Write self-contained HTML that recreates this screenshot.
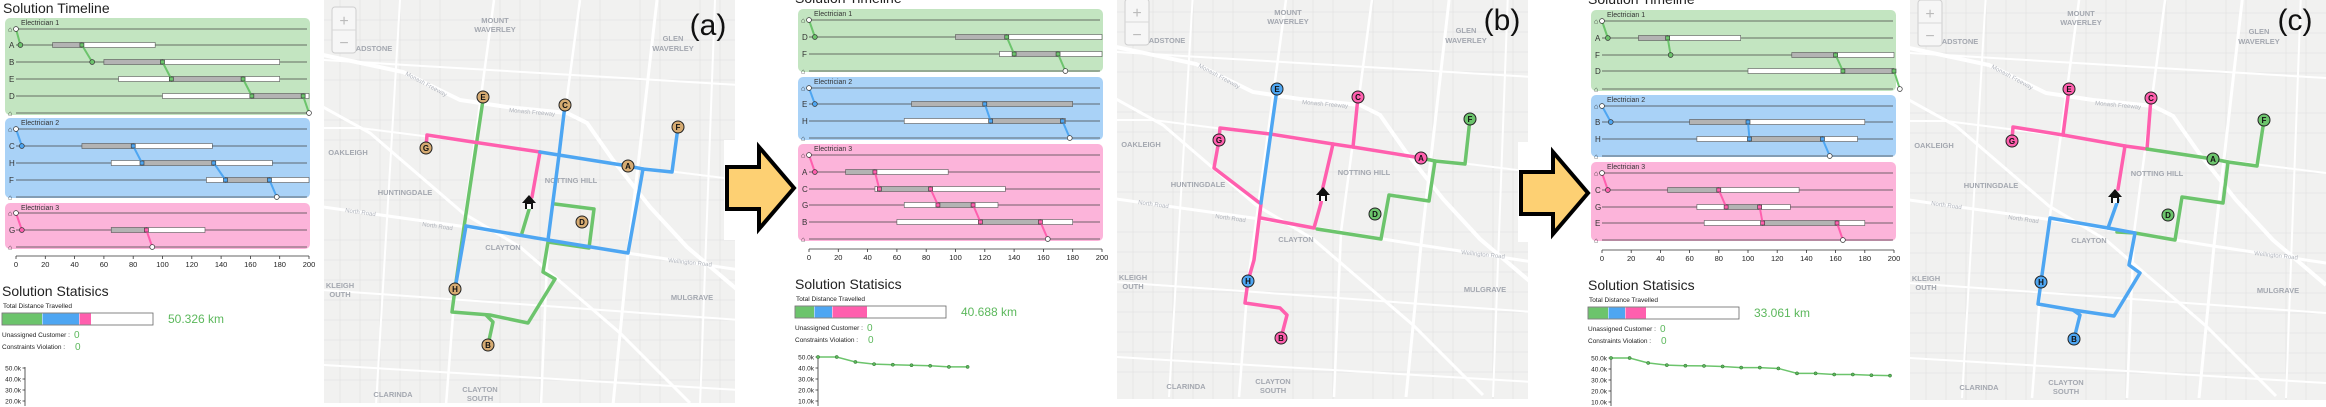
<!DOCTYPE html>
<html><head><meta charset="utf-8">
<style>
html,body{margin:0;padding:0;background:#fff;width:2326px;height:407px;overflow:hidden;}
svg{display:block;font-family:"Liberation Sans",sans-serif;}
</style></head>
<body>
<svg id="s" width="2326" height="407" viewBox="0 0 2326 407" xmlns="http://www.w3.org/2000/svg" overflow="hidden">
<defs>
<clipPath id="ca"><rect x="324" y="0" width="411" height="403"/></clipPath>
<clipPath id="cb"><rect x="1117" y="0" width="411" height="400"/></clipPath>
<clipPath id="cc"><rect x="1910" y="0" width="416" height="401"/></clipPath>
<g id="mapbg">
<rect x="300" y="0" width="460" height="407" fill="#f1f1f0"/>
<g stroke="#e4e4e4" stroke-width="0.8" fill="none">
<path d="M300 20H760M300 40H760M300 60H760M300 80H760M300 120H760M300 140H760M300 180H760M300 200H760M300 240H760M300 260H760M300 280H760M300 300H760M300 320H760M300 340H760M300 360H760M300 380H760"/>
<path d="M340 0V407M360 0V407M380 0V407M400 0V407M420 0V407M440 0V407M500 0V407M520 0V407M540 0V407M580 0V407M600 0V407M640 0V407M660 0V407M700 0V407M720 0V407"/>
</g>
<g stroke="#ffffff" fill="none" stroke-linecap="butt">
<path stroke-width="4" d="M323 55L403 72L460 100L507 107L567 113L587 123L613 160L650 207L687 247L740 292"/>
<path stroke-width="3" d="M323 107L370 133L463 213L520 247L620 333L690 403"/>
<path stroke-width="3" d="M323 207L467 227L627 253L740 270"/>
<path stroke-width="3" d="M657 0L628 253L613 405"/>
<path stroke-width="2.5" d="M494 0L455 289L446 405"/>
<path stroke-width="2.5" d="M580 0L548 240L541 405"/>
<path stroke-width="2" d="M323 128L360 128L470 142L628 166L740 180"/>
<path stroke-width="2" d="M323 290L740 320"/>
<path stroke-width="2" d="M323 365L740 390"/>
<path stroke-width="2" d="M400 0L376 405"/>
<path stroke-width="2" d="M715 0L700 405"/>
<path stroke-width="2" d="M323 60L740 85"/>
</g>
<g font-size="7.5" font-weight="bold" fill="#a4a8b0" text-anchor="middle">
<text x="495" y="23">MOUNT</text><text x="495" y="32">WAVERLEY</text>
<text x="673" y="41">GLEN</text><text x="673" y="51">WAVERLEY</text>
<text x="374" y="51">ADSTONE</text>
<text x="348" y="155">OAKLEIGH</text>
<text x="405" y="195">HUNTINGDALE</text>
<text x="571" y="183">NOTTING HILL</text>
<text x="503" y="250">CLAYTON</text>
<text x="692" y="300">MULGRAVE</text>
<text x="340" y="288">KLEIGH</text><text x="340" y="297">OUTH</text>
<text x="393" y="397">CLARINDA</text>
<text x="480" y="392">CLAYTON</text><text x="480" y="401">SOUTH</text>
</g>
<g font-size="6" fill="#b0b4bc">
<text x="405" y="75" transform="rotate(28 405 75)">Monash Freeway</text>
<text x="509" y="112" transform="rotate(5 509 112)">Monash Freeway</text>
<text x="345" y="212" transform="rotate(8 345 212)">North Road</text>
<text x="422" y="226" transform="rotate(8 422 226)">North Road</text>
<text x="668" y="262" transform="rotate(6 668 262)">Wellington Road</text>
</g>
<rect x="332" y="7" width="24" height="46" rx="3" fill="#f6f6f6" stroke="#cfcfcf"/>
<line x1="332" y1="30" x2="356" y2="30" stroke="#d8d8d8"/>
<text x="344" y="26" font-size="16" fill="#bbb" text-anchor="middle">+</text>
<text x="344" y="48" font-size="16" fill="#bbb" text-anchor="middle">−</text>
</g>
</defs>
</svg>
<script>
const S=document.getElementById('s');const NS='http://www.w3.org/2000/svg';
function el(t,a,p,txt){const e=document.createElementNS(NS,t);for(const k in a)e.setAttribute(k,a[k]);if(txt!==undefined)e.textContent=txt;(p||S).appendChild(e);return e;}
const COL={g:'#6cc46c',b:'#4ea6f2',p:'#ff5fae'};
const FILL={g:'#c3e5c1',b:'#a9d2f7',p:'#fcb4da'};
function tl(P){
 const X=v=>P.x0+v*(P.x1-P.x0)/200;
 el('text',{x:P.tx,y:P.ty,'font-size':14,fill:'#222'},null,'Solution Timeline');
 P.secs.forEach((s,si)=>{
  el('rect',{x:P.bl,y:s.top,width:P.br-P.bl,height:s.bot-s.top,rx:5,fill:FILL[s.c]});
  el('text',{x:P.x0+5,y:s.top+7,'font-size':7,fill:'#333'},null,'Electrician '+(si+1));
  const c=COL[s.c];
  s.rows.forEach((r,i)=>{
   el('line',{x1:P.x0,y1:r.y,x2:P.br-3,y2:r.y,stroke:'#444','stroke-width':0.8});
   if(r.n==='#'){el('text',{x:P.bl+3,y:r.y+2.5,'font-size':7,fill:'#222','font-weight':'bold'},null,'⌂');}
   else el('text',{x:P.bl+4,y:r.y+3,'font-size':8,fill:'#333'},null,r.n);
   (r.bars||[]).forEach(b=>el('rect',{x:X(b[0]),y:r.y-2.5,width:X(b[1])-X(b[0]),height:5,fill:b[2]?'#b3b3b3':'#fff',stroke:'#555','stroke-width':0.6}));
  });
  for(let i=1;i<s.rows.length;i++){const a=s.rows[i-1],b=s.rows[i];
   const pa=a.m[a.m.length-1][0],pb=b.m[0][0];
   el('line',{x1:X(pa),y1:a.y,x2:X(pb),y2:b.y,stroke:c,'stroke-width':2});}
  s.rows.forEach(r=>r.m.forEach(m=>{
   if(m[1]==='s')el('rect',{x:X(m[0])-2,y:r.y-2,width:4,height:4,fill:c,stroke:'#333','stroke-width':0.6});
   else el('circle',{cx:X(m[0]),cy:r.y,r:2.4,fill:m[1]==='w'?'#fff':c,stroke:'#333','stroke-width':0.7});
  }));
 });
 el('line',{x1:P.x0,y1:P.ay,x2:P.x1,y2:P.ay,stroke:'#333','stroke-width':0.8});
 for(let v=0;v<=200;v+=20){el('line',{x1:X(v),y1:P.ay,x2:X(v),y2:P.ay+3,stroke:'#333','stroke-width':0.8});
  el('text',{x:X(v),y:P.ay+11,'font-size':7.5,fill:'#222','text-anchor':'middle'},null,v);}
}
function R(n,y,m,bars){return {n,y,m,bars};}
function rowsY(ys,defs){return defs.map((d,i)=>R(d[0],ys[i],d[1],d[2]));}
tl({x0:16,x1:309,bl:5,br:310,tx:3,ty:13,ay:256,secs:[
 {c:'g',top:18,bot:115,rows:rowsY([29,45,62,79,96,113],[
  ['#',[[0,'w']]],['A',[[3,'c'],[45,'s']],[[25,45,1],[45,95,0]]],['B',[[52,'c'],[100,'s']],[[60,100,1],[100,180,0]]],
  ['E',[[106,'s'],[155,'s']],[[70,106,0],[106,155,1],[155,180,0]]],['D',[[161,'s'],[196,'s']],[[100,161,0],[161,196,1],[196,200,0]]],['#',[[200,'w']]]])},
 {c:'b',top:118,bot:198,rows:rowsY([129,146,163,180,197],[
  ['#',[[0,'w']]],['C',[[4,'c'],[80,'s']],[[45,80,1],[80,134,0]]],['H',[[86,'s'],[135,'s']],[[65,86,0],[86,135,1],[135,175,0]]],
  ['F',[[143,'s'],[173,'s']],[[130,143,0],[143,173,1],[173,200,0]]],['#',[[178,'w']]]])},
 {c:'p',top:203,bot:249,rows:rowsY([213,230,247],[
  ['#',[[0,'w']]],['G',[[4,'c'],[89,'s']],[[65,89,1],[89,129,0]]],['#',[[93,'w']]]])}]});
tl({x0:809,x1:1102,bl:798,br:1103,tx:795,ty:3,ay:249,secs:[
 {c:'g',top:9,bot:72,rows:rowsY([20,37,54,71],[
  ['#',[[0,'w']]],['D',[[4,'c'],[135,'s']],[[100,135,1],[135,200,0]]],['F',[[140,'s'],[170,'s']],[[130,140,0],[140,170,1],[170,200,0]]],['#',[[175,'w']]]])},
 {c:'b',top:77,bot:140,rows:rowsY([88,104,121,138],[
  ['#',[[0,'w']]],['E',[[4,'c'],[120,'s']],[[70,120,1],[120,180,1]]],['H',[[124,'s'],[173,'s']],[[65,124,0],[124,173,1],[173,175,0]]],['#',[[178,'w']]]])},
 {c:'p',top:144,bot:241,rows:rowsY([155,172,189,205,222,239],[
  ['#',[[0,'w']]],['A',[[4,'c'],[45,'s']],[[25,45,1],[45,95,0]]],['C',[[48,'s'],[83,'s']],[[45,48,0],[48,83,1],[83,134,0]]],
  ['G',[[88,'s'],[112,'s']],[[65,88,0],[88,112,1],[112,129,0]]],['B',[[117,'s'],[158,'s']],[[60,117,0],[117,158,1],[158,180,0]]],['#',[[163,'w']]]])}]});
tl({x0:1602,x1:1894,bl:1591,br:1896,tx:1588,ty:4,ay:250,secs:[
 {c:'g',top:10,bot:91,rows:rowsY([21,38,55,71,89],[
  ['#',[[0,'w']]],['A',[[4,'c'],[45,'s']],[[25,45,1],[45,95,0]]],['F',[[47,'c'],[160,'s']],[[130,160,1],[160,200,0]]],
  ['D',[[165,'s'],[200,'s']],[[100,165,0],[165,200,1]]],['#',[[204,'w']]]])},
 {c:'b',top:95,bot:157,rows:rowsY([106,122,139,156],[
  ['#',[[0,'w']]],['B',[[6,'c'],[100,'s']],[[60,100,1],[100,180,0]]],['H',[[101,'s'],[151,'s']],[[65,101,0],[101,151,1],[151,175,0]]],['#',[[156,'w']]]])},
 {c:'p',top:162,bot:241,rows:rowsY([173,190,207,223,240],[
  ['#',[[0,'w']]],['C',[[4,'c'],[80,'s']],[[45,80,1],[80,135,0]]],['G',[[85,'s'],[108,'s']],[[65,85,0],[85,108,1],[108,129,0]]],
  ['E',[[110,'s'],[161,'s']],[[70,110,0],[110,161,1],[161,180,0]]],['#',[[165,'w']]]])}]});
function stats(x,ty,segs,km,ax,y50,pts,nlab){
 el('text',{x:x,y:ty,'font-size':14,fill:'#222'},null,'Solution Statisics');
 el('text',{x:x+1,y:ty+12,'font-size':6.5,fill:'#222'},null,'Total Distance Travelled');
 const by=ty+17;
 el('rect',{x:x,y:by,width:151,height:12,fill:'#fff',stroke:'#666','stroke-width':0.8});
 let cx=x;[['g',segs[0]],['b',segs[1]],['p',segs[2]]].forEach(s=>{el('rect',{x:cx+0.5,y:by+0.5,width:s[1]-0.5,height:11,fill:COL[s[0]]});cx+=s[1];});
 el('text',{x:x+166,y:by+10,'font-size':12,fill:'#5cb85c'},null,km);
 el('text',{x:x,y:by+24,'font-size':6.5,fill:'#222'},null,'Unassigned Customer : ');
 el('text',{x:x+72,y:by+25,'font-size':10,fill:'#5cb85c'},null,'0');
 el('text',{x:x,y:by+36,'font-size':6.5,fill:'#222'},null,'Constraints Violation : ');
 el('text',{x:x+73,y:by+37,'font-size':10,fill:'#5cb85c'},null,'0');
 el('line',{x1:ax,y1:y50-1,x2:ax,y2:406,stroke:'#333','stroke-width':0.8});
 for(let i=0;i<nlab;i++){const y=y50+i*11;el('line',{x1:ax-2.5,y1:y,x2:ax,y2:y,stroke:'#333','stroke-width':0.8});
  el('text',{x:ax-4,y:y+2.5,'font-size':6.5,fill:'#222','text-anchor':'end'},null,(50-10*i)+'.0k');}
 if(pts.length){const xs=pts.map((p,i)=>[ax+i*pts.step,y50+(50-p)*1.1]);
  el('polyline',{points:xs.map(p=>p.join(',')).join(' '),fill:'none',stroke:'#6cc46c','stroke-width':1.5});
  xs.forEach(p=>el('circle',{cx:p[0],cy:p[1],r:1.6,fill:'#5cb85c',stroke:'#2d6b2d','stroke-width':0.5}));}
}
stats(2,296,[40,37,12],'50.326 km',25,368,[],4);
let pb=[50,50,45.5,43.5,43,42.5,42,41,41];pb.step=18.7;
stats(795,289,[19,18,35],'40.688 km',818,357,pb,5);
let pc=[50,50,45.5,43.5,43,42.8,42.3,41.3,41.3,40.5,36,36,35,35,34.3,34];pc.step=18.6;
stats(1588,290,[20,17,21],'33.061 km',1611,358,pc,5);
function marker(x,y,l,fill){el('circle',{cx:x,cy:y,r:6,fill:fill,stroke:'#222','stroke-width':1});
 el('text',{x:x,y:y+3,'font-size':8,'font-weight':'bold','text-anchor':'middle',fill:'#111'},null,l);}
function house(x,y){el('path',{d:`M${x-7} ${y+1}L${x} ${y-7}L${x+7} ${y+1}H${x+4}V${y+7}H${x-4}V${y+1}Z`,fill:'#111'});
 el('rect',{x:x-2,y:y+2,width:4,height:5,fill:'#fff'});}
function line(pts,c,p){el('polyline',{points:pts.map(q=>q.join(',')).join(' '),fill:'none',stroke:COL[c],'stroke-width':3.5,'stroke-linejoin':'round','stroke-linecap':'round'},p);}
function map(clip,dx,dy,lab,lx,ly,routes,marks,home){
 const g=el('g',{'clip-path':`url(#${clip})`});
 el('use',{href:'#mapbg',transform:`translate(${dx},${dy})`},g);
 routes.forEach(r=>line(r[1],r[0],g));
 marks.forEach(m=>marker(m[1],m[2],m[0],m[3]));
 house(home[0],home[1]);
 el('text',{x:lx,y:ly,'font-size':30,'text-anchor':'middle',fill:'#111'},null,lab);
}
const T='#d6ab72';
map('ca',0,0,'(a)',708,35,[
 ['g',[[483,100],[464,227],[455,289],[452,312],[490,315],[528,323],[555,279],[543,272],[548,242],[589,248],[594,209],[555,204]]],
 ['g',[[522,233],[531,203]]],['g',[[486,315],[493,322],[488,345]]],
 ['p',[[426,148],[427,135],[473,142],[540,152],[532,197]]],
 ['b',[[565,105],[559,155],[548,240]]],['b',[[466,226],[455,289]]],
 ['b',[[466,226],[548,240],[628,253],[643,169],[672,172],[678,127]]],['b',[[540,152],[628,166],[643,169]]]],
 [['E',483,97,T],['C',565,105,T],['F',678,127,T],['G',426,148,T],['A',628,166,T],['D',582,222,T],['H',455,289,T],['B',488,345,T]],[529,202]);
map('cb',793,-8,'(b)',1502,30,[
 ['g',[[1317,229],[1381,239],[1389,195],[1429,201],[1435,161],[1465,164],[1470,119]]],['g',[[1421,158],[1435,161]]],
 ['p',[[1219,140],[1220,128],[1270,134],[1333,144],[1353,147],[1421,158]]],['p',[[1358,97],[1353,147]]],
 ['p',[[1333,144],[1323,187],[1321,203],[1314,228],[1261,218]]],
 ['p',[[1219,140],[1214,168],[1261,204],[1254,260],[1248,281],[1245,303],[1280,308],[1287,315],[1281,338]]],
 ['b',[[1277,89],[1261,203]]]],
 [['E',1277,89,COL.b],['C',1358,97,COL.p],['F',1470,119,COL.g],['G',1219,140,COL.p],['A',1421,158,COL.p],['D',1375,214,COL.g],['H',1248,281,COL.b],['B',1281,338,COL.p]],[1323,194]);
map('cc',1586,-7,'(c)',2295,30,[
 ['p',[[2012,141],[2013,127],[2063,135],[2125,146],[2147,149]]],['p',[[2069,89],[2063,135]]],['p',[[2151,98],[2147,149]]],['p',[[2125,146],[2118,189]]],
 ['g',[[2147,149],[2213,159],[2228,162],[2257,166],[2264,120]]],['g',[[2228,162],[2223,203],[2182,197],[2175,240],[2135,233],[2117,232]]],
 ['b',[[2118,200],[2108,228],[2050,218],[2041,282],[2038,304],[2073,310],[2080,315],[2074,339]]],
 ['b',[[2108,228],[2135,233],[2129,265],[2140,273],[2114,316],[2073,310]]]],
 [['E',2069,89,COL.p],['C',2151,98,COL.p],['F',2264,120,COL.g],['G',2012,141,COL.p],['A',2213,159,COL.g],['D',2168,215,COL.g],['H',2041,282,COL.b],['B',2074,339,COL.b]],[2115,196]);
function arrow(x,y){el('path',{d:`M${x} ${y+27}H${x+32}V${y+7}L${x+67} ${y+48}L${x+32} ${y+89}V${y+69}H${x}Z`,fill:'#fdd073',stroke:'#000','stroke-width':4,'stroke-linejoin':'miter'});}
el('rect',{x:724,y:140,width:14,height:100,fill:'#fff'});
arrow(727,140);
el('rect',{x:1518,y:142,width:14,height:100,fill:'#fff'});
arrow(1521,145);
</script>
</body></html>
